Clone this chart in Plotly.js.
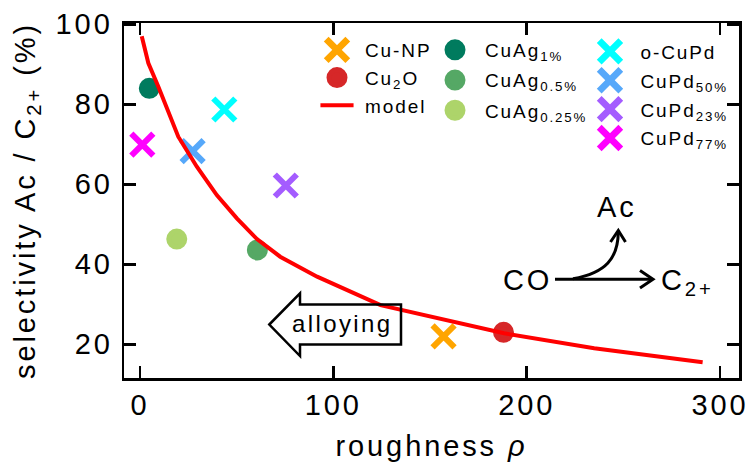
<!DOCTYPE html>
<html><head><meta charset="utf-8">
<script src="https://cdn.plot.ly/plotly-3.0.1.min.js"></script>
<style>
html,body{margin:0;padding:0;background:#fff;}
#chart{width:748px;height:463px;}
svg text{letter-spacing:0.1em;}
</style></head><body><div id="chart"></div>
<script>
// ---- data ----
const cuNP_x = [157],  cuNP_y = [22];
const cu2O_x = [188],  cu2O_y = [23];
const ag1_x = [4.8],   ag1_y = [84];
const ag05_x = [60.7], ag05_y = [43.6];
const ag025_x = [19],  ag025_y = [46.3];
const oPd_x = [43.6],  oPd_y = [78.7];
const pd50_x = [27.2], pd50_y = [68.3];
const pd23_x = [75.4], pd23_y = [59.7];
const pd77_x = [1.2],  pd77_y = [69.9];
const model_x = [0.9, 4.3, 9.5, 14.7, 19.8, 29.4, 39.7, 50.1, 60.5, 72.5, 85, 91.6, 124.4, 157.2, 188.3, 234.9, 291];
const model_y = [97.0, 90.3, 84.4, 78.2, 71.9, 64.4, 57.3, 51.5, 46.3, 41.9, 38.6, 36.9, 29.8, 26.1, 22.75, 19.0, 15.5];
const xTicks = [0, 100, 200, 300];
const yTicks = [20, 40, 60, 80, 100];

// ---- geometry helpers (pixel -> paper) ----
const L = 124, T = 23, W = 615, H = 355;
const px = p => (p - L) / W;
const py = p => 1 - (p - T) / H;
const path = (pts, close) => pts.map((p, i) => (i ? 'L' : 'M') + px(p[0]).toFixed(5) + ',' + py(p[1]).toFixed(5)).join(' ') + (close ? ' Z' : '');

const FONT = '"Liberation Sans", Arial, Helvetica, sans-serif';

function cross(name, x, y, color, legend, rank) {
  return {x, y, name, type: 'scatter', mode: 'markers', legend, legendgroup: name, legendrank: rank,
    marker: {symbol: 'x-thin-open', size: 22, color, line: {width: 6, color}}};
}
function dot(name, x, y, color, legend, rank) {
  return {x, y, name, type: 'scatter', mode: 'markers', legend, legendgroup: name, legendrank: rank,
    marker: {symbol: 'circle', size: 16, color, line: {width: 5, color}}};
}

const traces = [
  cross('Cu-NP', cuNP_x, cuNP_y, '#ffa500', 'legend', 1),
  dot('Cu<sub>2</sub>O', cu2O_x, cu2O_y, '#d62728', 'legend', 2),
  dot('CuAg<sub>1%</sub>', ag1_x, ag1_y, '#007b5e', 'legend2', 1),
  dot('CuAg<sub>0.5%</sub>', ag05_x, ag05_y, '#55a865', 'legend2', 2),
  dot('CuAg<sub>0.25%</sub>', ag025_x, ag025_y, '#add46a', 'legend2', 3),
  cross('o-CuPd', oPd_x, oPd_y, '#00ffff', 'legend3', 1),
  cross('CuPd<sub>50%</sub>', pd50_x, pd50_y, '#56a8fa', 'legend3', 2),
  cross('CuPd<sub>23%</sub>', pd23_x, pd23_y, '#a45cff', 'legend3', 3),
  cross('CuPd<sub>77%</sub>', pd77_x, pd77_y, '#ff00ff', 'legend3', 4),
  {x: model_x, y: model_y, name: 'model', type: 'scatter', mode: 'lines', legend: 'legend', legendgroup: 'model', legendrank: 3,
    line: {color: '#ff0000', width: 4}}
];

const legBase = {xanchor: 'left', yanchor: 'top', bgcolor: 'rgba(0,0,0,0)', borderwidth: 0,
  font: {family: FONT, size: 19, color: '#000'}, traceorder: 'grouped'};

const axBase = {showline: true, linewidth: 2.5, linecolor: '#000', mirror: 'ticks', ticks: 'inside',
  ticklen: 12, tickwidth: 2.5, tickcolor: '#000', showgrid: false, zeroline: false,
  ticklabeloverflow: 'allow', tickfont: {family: FONT, size: 29, color: '#000'}};

const lineStyle = {color: '#000', width: 3};

const layout = {
  width: 748, height: 463,
  margin: {l: L, r: 748 - L - W, t: T, b: 463 - T - H},
  paper_bgcolor: '#fff', plot_bgcolor: '#fff',
  font: {family: FONT, color: '#000'},
  showlegend: true,
  xaxis: Object.assign({}, axBase, {range: [-8.28, 309.8], tickmode: 'array', tickvals: xTicks,
    title: {text: 'roughness <i>ρ</i>', font: {family: FONT, size: 29, color: '#000'}, standoff: 16}}),
  yaxis: Object.assign({}, axBase, {range: [11.575, 100.325], tickmode: 'array', tickvals: yTicks, ticklabelstandoff: 3,
    title: {text: 'selectivity Ac / C<sub>2+</sub> (%)', font: {family: FONT, size: 29, color: '#000'}, standoff: 12}}),
  legend: Object.assign({}, legBase, {x: px(309), y: py(31), itemwidth: 46, tracegroupgap: 0}),
  legend2: Object.assign({}, legBase, {x: px(425), y: py(31), itemwidth: 50, tracegroupgap: 2.5}),
  legend3: Object.assign({}, legBase, {x: px(579.5), y: py(32.5), itemwidth: 51, tracegroupgap: 1.2}),
  shapes: [
    // "alloying" hollow arrow
    {type: 'path', xref: 'paper', yref: 'paper', line: {color: '#000', width: 2.5}, fillcolor: 'rgba(0,0,0,0)',
      path: path([[269.3, 324.5], [300, 293.3], [300, 304.5], [401, 304.5], [401, 344.5], [300, 344.5], [300, 356]], true)},
    // CO -> C2+ arrow
    {type: 'path', xref: 'paper', yref: 'paper', line: lineStyle, path: path([[555, 279.3], [652, 279.3]])},
    {type: 'path', xref: 'paper', yref: 'paper', line: lineStyle, path: path([[640, 270.5], [653, 279.3], [640, 288]])},
    // curved arrow to Ac
    {type: 'path', xref: 'paper', yref: 'paper', line: lineStyle,
      path: 'M' + px(573).toFixed(5) + ',' + py(278.7).toFixed(5) + ' C' + px(606).toFixed(5) + ',' + py(273).toFixed(5) + ' ' +
        px(618).toFixed(5) + ',' + py(258).toFixed(5) + ' ' + px(618.3).toFixed(5) + ',' + py(232).toFixed(5)},
    {type: 'path', xref: 'paper', yref: 'paper', line: lineStyle, path: path([[610.5, 242], [618.3, 230.5], [625.5, 242]])}
  ],
  annotations: [
    {xref: 'paper', yref: 'paper', x: px(342.5), y: py(323), text: 'alloying', showarrow: false,
      xanchor: 'center', yanchor: 'middle', font: {family: FONT, size: 24, color: '#000'}},
    {xref: 'paper', yref: 'paper', x: px(527.5), y: py(280), text: 'CO', showarrow: false,
      xanchor: 'center', yanchor: 'middle', font: {family: FONT, size: 29, color: '#000'}},
    {xref: 'paper', yref: 'paper', x: px(617), y: py(207), text: 'Ac', showarrow: false,
      xanchor: 'center', yanchor: 'middle', font: {family: FONT, size: 29, color: '#000'}},
    {xref: 'paper', yref: 'paper', x: px(659), y: py(282), text: 'C<sub>2+</sub>', showarrow: false,
      xanchor: 'left', yanchor: 'middle', font: {family: FONT, size: 29, color: '#000'}}
  ]
};

Plotly.newPlot('chart', traces, layout, {displayModeBar: false, staticPlot: true}).then(gd => {
  const legSel = 'g.legend, g.legend2, g.legend3';
  gd.querySelectorAll(legSel).forEach(lg => {
    // enlarge the cross symbols in the legends (Plotly caps legend marker size at 16 px)
    lg.querySelectorAll('path.scatterpts').forEach(p => {
      const d = p.getAttribute('d') || '';
      if (d.indexOf('A') === -1) {
        p.setAttribute('transform', (p.getAttribute('transform') || '') + ' scale(1.35)');
      }
    });
    // shorten the legend line sample of the model
    lg.querySelectorAll('path.js-line').forEach(p => {
      const bb = p.getBBox();
      const cx = bb.x + bb.width / 2;
      p.setAttribute('transform', (p.getAttribute('transform') || '') +
        ` translate(${cx},0) scale(0.72,1) translate(${-cx},0)`);
    });
  });
});
</script></body></html>
